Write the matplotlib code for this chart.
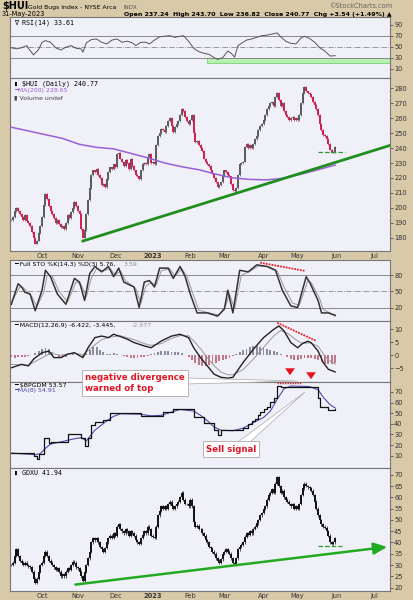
import numpy as np
import pandas as pd
import matplotlib
matplotlib.use('Agg')
import matplotlib.pyplot as plt
from matplotlib.patches import Polygon, Rectangle

# ---- data ----
# daily closes, 7-Sep-2022 .. 31-May-2023 (business days)
hui_close = [192, 194, 198, 200, 198, 196, 194, 192, 195, 191, 190, 188, 184, 180, 176, 178, 183, 188,
             194, 202, 209, 206, 201, 198, 196, 193, 190, 192, 189, 187, 188, 186, 190, 195, 193, 197, 200, 204, 201,
             198, 196, 186, 180, 185, 196, 205, 213, 222, 225, 224, 226, 222, 220, 215, 216, 214, 219, 224, 227, 226, 229,
             227, 236, 237, 233, 231, 228, 232, 230, 226, 233, 228, 225, 222, 221, 219, 225, 229, 230, 229, 234, 236, 230,
             231, 229, 242, 248, 250, 253, 252, 251, 255, 258, 260, 255, 251, 254, 256, 258, 262, 266, 265, 261, 258, 256,
             259, 262, 250, 244, 245, 242, 240, 238, 233, 231, 229, 228, 225, 223, 220, 217, 214, 215, 217, 221,
             225, 224, 222, 221, 216, 212, 211, 213, 222, 229, 230, 231, 241, 243, 240, 242, 240, 243, 246, 248, 252, 255, 256,
             259, 262, 266, 268, 270, 271, 268, 274, 277, 272, 268, 270, 265, 262, 261, 259, 260, 261, 259, 260,
             259, 262, 270, 277, 281, 278, 277, 276, 274, 271, 269, 266, 262, 256, 252, 249, 248, 246, 243, 239, 237, 237.23, 240.77]

gdxu_close = [30, 31, 34, 37, 34, 32, 31, 30, 31, 30, 29.5, 29, 27, 24, 22, 24, 27, 30,
              31, 34, 36, 34, 32, 31, 30, 29, 28, 28.5, 27, 25, 26, 25, 27, 28.5, 28, 30, 31.5, 31, 29,
              28.5, 27, 25, 23, 27, 30, 33, 36, 40, 42, 41, 42, 40, 38, 37, 36, 37.5, 40, 42, 43, 42, 44,
              43, 47, 48, 46, 45, 44, 46, 45, 43, 45, 44, 43, 41, 40, 39.5, 42, 43.5, 45, 44, 47, 46, 43,
              42.5, 42, 47, 52, 54, 56, 55, 56, 55, 57, 58, 56, 55, 56, 57, 58, 60, 62, 59, 57, 57, 56,
              59, 56, 49, 47, 47.5, 46, 46, 44, 43, 41, 40, 38, 37.5, 36, 35, 33, 32, 31, 32.5, 35,
              36, 37, 36, 35, 33, 31, 30.5, 33, 37, 38, 39, 40, 42.5, 44, 43.5, 45, 44, 46, 47, 48.5, 50, 52, 53,
              55, 56, 59, 61, 62, 63.5, 62, 66, 69, 65, 62, 63, 60, 59, 58, 57, 56, 57, 55, 56,
              55, 57, 61, 64, 66, 65, 64.5, 64, 63, 61, 58, 55, 52, 50, 48, 47, 46.5, 45, 43, 40, 39.5, 40, 41.94]

ma200_idx = [0, 10, 20, 30, 40, 50, 60, 70, 80, 90, 100, 110, 120, 130, 140, 150, 160, 170, 180, 190]
ma200_val = [254, 251.5, 249, 246.5, 242.5, 240.5, 239.5, 236.5, 233.5, 230, 227.5, 225.5, 222.5, 220, 219,
             218.7, 219.8, 222.5, 225.5, 228.65]

rsi_idx = [0, 3, 6, 9, 10, 13, 16, 18, 20, 23, 26, 29, 32, 35, 38, 41, 42, 44, 47, 50, 53, 56, 59, 62, 65, 68,
           71, 73, 76, 79, 81, 84, 87, 90, 93, 96, 99, 101, 104, 107, 110, 113, 116, 119, 121, 124, 127, 129,
           131, 133, 135, 138, 141, 144, 147, 150, 153, 156, 158, 161, 164, 167, 170, 172, 175, 178, 181, 184,
           187, 190]
rsi_val = [48, 46, 48, 52, 47, 35, 45, 58, 61, 58, 48, 44, 49, 52, 47, 46, 40, 57, 63, 64, 58, 55, 62, 64, 58, 60,
           57, 52, 58, 58, 55, 62, 68, 69, 70, 67, 69, 70, 60, 47, 41, 38, 36, 30, 27, 30, 42, 38,
           31, 52, 56, 62, 64, 67, 70, 71, 73, 75, 68, 60, 56, 55, 66, 69, 65, 58, 48, 42,
           33, 33.61]

stok_idx = [0, 4, 6, 8, 11, 14, 18, 20, 23, 27, 32, 37, 40, 43, 46, 49, 53, 57, 60, 63, 66, 72, 75, 78, 81, 84,
            87, 92, 95, 99, 102, 105, 109, 115, 121, 125, 127, 130, 134, 139, 144, 150, 155, 159, 164, 168,
            173, 175, 180, 182, 186, 190]
stok_val = [26, 64, 58, 48, 45, 14, 52, 89, 77, 45, 26, 74, 67, 33, 83, 96, 86, 96, 77, 93, 67, 58, 20, 67, 70, 58,
            93, 93, 74, 96, 77, 45, 10, 10, 4, 17, 52, 10, 89, 86, 99, 96, 89, 52, 23, 20,
            77, 67, 33, 10, 10, 5.76]
stod_idx = [0, 5, 7, 10, 12, 15, 19, 21, 24, 28, 33, 38, 41, 44, 47, 50, 54, 58, 61, 64, 67, 73, 76, 79, 82, 85,
            88, 93, 96, 100, 103, 106, 110, 116, 122, 126, 128, 131, 135, 140, 145, 151, 156, 160, 165, 169,
            174, 176, 181, 183, 187, 190]
stod_val = [30, 58, 57, 47, 40, 22, 48, 80, 78, 50, 30, 68, 62, 40, 75, 92, 88, 92, 80, 88, 70, 55, 28, 60, 66, 62,
            88, 92, 78, 92, 78, 50, 15, 10, 6, 25, 45, 18, 80, 87, 97, 96, 88, 58, 28, 24,
            70, 66, 36, 16, 10, 3.59]

macd_idx = [0, 6, 10, 13, 18, 22, 25, 29, 33, 37, 42, 45, 49, 53, 57, 60, 64, 68, 72, 78, 82, 88, 94, 99, 104,
            107, 111, 115, 119, 123, 127, 130, 136, 142, 148, 154, 157, 160, 164, 168, 171, 174, 176, 180,
            183, 186, 190]
macd_val = [-4.8, -3.5, -4.1, -1.5, 1.0, 1.6, -0.9, -0.9, 0.4, 1.0, -0.9, 2.9, 6.8, 7.4, 6.8, 8.1, 7.2, 6.2, 4.9,
            3.6, 2.9, 5.5, 7.4, 8.1, 6.8, 2.9, -0.9, -4.1, -7.3, -8.5, -8.8, -8.5, -2.8, 2.3, 6.8, 10, 11.3, 9.4,
            4.9, 2.9, 4.6, 5.4, 4.8, 1.6, -2.8, -5.4, -6.422]
sig_idx = [0, 10, 18, 23, 29, 37, 42, 49, 53, 58, 64, 72, 78, 82, 88, 94, 99, 104, 107, 111, 115, 119, 123, 127,
           130, 136, 142, 148, 154, 158, 162, 168, 171, 175, 180, 183, 186, 190]
sig_val = [-3.5, -3.8, -1.0, 0.8, 0, 0.8, 0.2, 4, 6, 7, 7.5, 6, 4.5, 3.8, 4.5, 6.5, 7.6, 7.5, 5.5, 2.5, -1, -4,
           -6.5, -7.5, -7.5, -5.5, -1.5, 3, 7.5, 9.5, 8.5, 5.5, 4.5, 4.8, 3.5, 0.5, -1.8, -3.445]
# histogram, every second bar
hist_val = [-0.8, -0.9, -0.7, -0.6, -0.5, -0.3, 0.2, 0.8, 1.6, 2.3, 2.9, 2.4, 1.2,
            0.2, -0.6, -0.9, -0.6, 0.2, 0.5, 0.2, -0.4, -0.6,
            0.8, 2.2, 3.3, 3.1, 2.2, 1.2, 0.6,
            0.5, 0.8, 0.6, 0.2, -0.3, -0.6, -0.9, -1.1, -1.0, -0.8, -0.5, -0.1,
            0.4, 0.9, 1.4, 1.6, 1.7, 1.6, 1.4, 1.3, 1.1, 0.8,
            0.1, -0.8, -1.8, -2.8, -3.6, -4.0, -4.1, -3.8, -3.4, -2.8, -2.3, -1.8, -1.3, -0.9, -0.4,
            0.4, 1.2, 2.0, 2.6, 3.1, 3.4, 3.4, 3.2, 2.9, 2.5, 2.1, 1.6, 1.2, 0.6, 0.1,
            -0.6, -1.3, -1.8, -2.0, -1.6, -1.2, -1.0, -0.9, -1.3, -2.0, -2.7, -3.2, -3.5, -3.3, -3.0]

bpgdm_idx = [0, 13, 15, 16, 19, 22, 23, 33, 41, 43, 45, 47, 49, 54, 58, 76, 89, 95, 107, 113, 119, 121, 123,
             136, 139, 141, 143, 145, 146, 148, 150, 152, 154, 156, 158, 180, 181, 186, 190]
bpgdm_val = [12.5, 10, 7, 12, 27, 22, 23, 30, 26.5, 19, 27, 39, 41.5, 43.5, 50, 47.3, 51, 53.5, 46.7, 40.5, 34,
             29.5, 34, 36, 40, 43, 45, 48, 51, 54, 56, 60.7, 64, 76, 75, 64, 56, 53, 53.57]
bpma_idx = [0, 14, 17, 20, 23, 29, 37, 41, 44, 49, 53, 57, 60, 64, 76, 82, 88, 94, 99, 107, 111, 115, 119, 123,
            130, 136, 142, 148, 152, 156, 160, 164, 175, 180, 183, 187, 190]
bpma_val = [12.5, 11, 12, 17, 21, 23, 26, 27, 24, 34, 39, 44, 47, 49.5, 49, 47.5, 48, 51, 53.5, 52, 48, 43, 37,
            34, 33.5, 36, 41, 46, 52, 63, 73, 75.5, 75, 72, 65, 58, 54.91]

# trend lines / level marks (bar index, value)
hui_trend = ([42, 222.2], [177.7, 241.8])
hui_level = ([180, 196], 237.5)
gdxu_trend = ([36, 222.2], [21.2, 38.2])
gdxu_level = ([180, 194], 38.3)
sto_div = ([146, 172], [103, 88])
macd_div = ([156, 179], [12.5, 5.5])

W, H = 414, 600
BG = '#d8caa8'
PANEL = '#f0f0f8'
UP, DN = '#5a5a5a', '#cf1f4f'

dates = pd.bdate_range('2022-09-07', '2023-07-31')
n = len(hui_close)
idx = np.arange(n)
XMAX = 222.2

mpos, mlab = [], []
for k in range(1, len(dates)):
    if dates[k].month != dates[k - 1].month and k <= XMAX:
        mpos.append(k)
        mlab.append('2023' if dates[k].month == 1 else dates[k].strftime('%b'))

fig = plt.figure(figsize=(W / 100, H / 100), dpi=100, facecolor=BG)


def panel(top, bottom):
    ax = fig.add_axes([10 / W, 1 - bottom / H, 380 / W, (bottom - top) / H])
    ax.set_facecolor(PANEL)
    ax.set_xlim(-0.8, XMAX)
    ax.yaxis.tick_right()
    ax.tick_params(axis='y', labelsize=4.8, length=2, pad=1, colors='#333333', width=0.5)
    ax.tick_params(axis='x', length=0, labelsize=4.8, pad=1.5, colors='#333333')
    ax.set_xticks([])
    for s in ax.spines.values():
        s.set_color('#777777')
        s.set_linewidth(0.8)
    return ax


def month_axis(ax):
    ax.set_xticks(mpos)
    ax.set_xticklabels(mlab)
    for t in ax.get_xticklabels():
        if t.get_text() == '2023':
            t.set_fontweight('bold')


def bars(ax, close, colored=True):
    c = np.array(close, dtype=float)
    prev = np.r_[c[0], c[:-1]]
    lo = np.minimum(prev, c)
    hi = np.maximum(prev, c) + 0.001
    if colored:
        cols = [UP if a >= b else DN for a, b in zip(c, prev)]
    else:
        cols = '#111111'
    ax.vlines(idx, lo - 0.6, hi + 0.6, colors=cols, lw=0.5)
    ax.vlines(idx, lo, hi, colors=cols, lw=1.4)


# RSI
ax = panel(17, 78)
ax.set_ylim(-7, 104)
ax.set_yticks([10, 30, 50, 70, 90])
for lv in (30, 70):
    ax.axhline(lv, color='#888888', lw=0.7)
ax.axhline(50, color='#888888', lw=0.6, ls='-.')
ax.add_patch(Rectangle((115, 21), XMAX - 115, 9, fc='#b8f0b0', ec='#66cc66', lw=0.5, zorder=1))
ax.plot(rsi_idx, rsi_val, color='#555555', lw=0.7, zorder=3)
ax.text(0.01, 0.96, '\u2207 RSI(14) 33.61', transform=ax.transAxes, fontsize=4.8, va='top', family='DejaVu Sans Mono')

# price
ax = panel(78, 251)
ax.set_ylim(171, 287)
ax.set_yticks(range(180, 290, 10))
bars(ax, hui_close)
ax.plot(ma200_idx, ma200_val, color='#9b5fd6', lw=1.1, zorder=3)
ax.plot(hui_trend[0], hui_trend[1], color='#1e8f1e', lw=2.0, zorder=4)
ax.plot(hui_level[0], [hui_level[1]] * 2, color='#2aa02a', lw=0.9, ls='--', zorder=4)
ax.text(0.01, 0.985, '\u25ae $HUI (Daily) 240.77', transform=ax.transAxes, fontsize=4.8, va='top', family='DejaVu Sans Mono')
ax.text(0.01, 0.94, '\u2501MA(200) 228.65', transform=ax.transAxes, fontsize=4.5, va='top', color='#9b5fd6')
ax.text(0.01, 0.90, '\u25ae Volume undef', transform=ax.transAxes, fontsize=4.5, va='top', color='#444444')
month_axis(ax)

# Full STO
ax = panel(260, 321)
ax.set_ylim(-5, 108)
ax.set_yticks([20, 50, 80])
for lv in (20, 80):
    ax.axhline(lv, color='#888888', lw=0.7)
ax.axhline(50, color='#888888', lw=0.6, ls='-.')
ax.plot(stod_idx, stod_val, color='#999999', lw=0.7)
ax.plot(stok_idx, stok_val, color='#333333', lw=1.1)
ax.plot(sto_div[0], sto_div[1], color='#e8202a', lw=1.3, ls=(0, (1, 0.6)))
ax.text(0.01, 0.97, '\u2501 Full STO %K(14,3) %D(3) 5.76,', transform=ax.transAxes, fontsize=4.5, va='top')
ax.text(0.30, 0.97, '3.59', transform=ax.transAxes, fontsize=4.5, va='top', color='#888888')

# MACD
ax = panel(321, 382)
ax.set_ylim(-10.3, 13.2)
ax.set_yticks([-5, 0, 5, 10])
hidx = idx[::2]
hv = np.array(hist_val)
ax.bar(hidx, hv, width=1.1, color=np.where(hv >= 0, '#8c8c9c', '#c07888'), lw=0)
ax.plot(sig_idx, sig_val, color='#999999', lw=0.7)
ax.plot(macd_idx, macd_val, color='#222222', lw=1.0)
ax.plot(macd_div[0], macd_div[1], color='#e8202a', lw=1.3, ls=(0, (1, 0.6)))
ax.text(0.01, 0.97, '\u2501 MACD(12,26,9) -6.422, -3.445,', transform=ax.transAxes, fontsize=4.5, va='top')
ax.text(0.32, 0.97, '-2.977', transform=ax.transAxes, fontsize=4.5, va='top', color='#999999')

# $BPGDM
ax = panel(382, 468)
ax.set_ylim(-1.5, 79.3)
ax.set_yticks(range(10, 80, 10))
ax.plot(bpma_idx, bpma_val, color='#4a4ab0', lw=0.8)
ax.plot(bpgdm_idx, bpgdm_val, color='#111111', lw=0.9, drawstyle='steps-post')
ax.text(0.01, 0.985, '\u2501 $BPGDM 53.57', transform=ax.transAxes, fontsize=4.5, va='top')
ax.text(0.01, 0.93, '\u2501MA(8) 54.91', transform=ax.transAxes, fontsize=4.5, va='top', color='#4a4ab0')

# GDXU
ax = panel(468, 591)
ax.set_ylim(18.5, 73)
ax.set_yticks(range(20, 75, 5))
bars(ax, gdxu_close, colored=False)
ax.annotate('', xy=(gdxu_trend[0][1], gdxu_trend[1][1]), xytext=(gdxu_trend[0][0], gdxu_trend[1][0]),
            arrowprops=dict(arrowstyle='-|>,head_width=0.35,head_length=0.8', color='#22aa22', lw=1.8),
            annotation_clip=False)
ax.plot(gdxu_level[0], [gdxu_level[1]] * 2, color='#2aa02a', lw=0.9, ls='--')
ax.text(0.01, 0.985, '\u25ae GDXU 41.94', transform=ax.transAxes, fontsize=4.8, va='top', family='DejaVu Sans Mono')
month_axis(ax)

# header and callouts in pixel space
ov = fig.add_axes([0, 0, 1, 1])
ov.set_xlim(0, W)
ov.set_ylim(H, 0)
ov.axis('off')
ov.patch.set_visible(False)
ov.text(2, 9, '$HUI', fontsize=7, fontweight='bold', va='baseline')
ov.text(28, 9, 'Gold Bugs Index - NYSE Arca', fontsize=4.4, va='baseline')
ov.text(124, 9, 'INDX', fontsize=4, va='baseline', color='#555555')
ov.text(392, 8, '\u00a9StockCharts.com', fontsize=4.8, ha='right', va='baseline', color='#666666')
ov.text(2, 16, '31-May-2023', fontsize=4.8, va='baseline')
ov.text(392, 16, 'Open 237.24  High 243.70  Low 236.82  Close 240.77  Chg +3.54 (+1.49%) \u25b2',
        fontsize=4.5, ha='right', va='baseline', fontweight='bold')

ov.add_patch(Polygon([(186, 378), (186, 384), (297, 381)], closed=True, fc='white', ec='#aaaaaa', lw=0.5))
ov.text(85, 383, 'negative divergence\nwarned of top', fontsize=6.2, fontweight='bold', color='#e01525',
        va='center', ha='left', linespacing=1.2,
        bbox=dict(boxstyle='square,pad=0.35', fc='white', ec='#aaaaaa', lw=0.6))
ov.add_patch(Polygon([(238, 442), (250, 442), (305, 392)], closed=True, fc='white', ec='#aaaaaa', lw=0.5))
ov.text(206, 449, 'Sell signal', fontsize=6.2, fontweight='bold', color='#e01525', va='center', ha='left',
        bbox=dict(boxstyle='square,pad=0.35', fc='white', ec='#aaaaaa', lw=0.6))
for ax_x, y0 in ((290, 367), (311, 371)):
    ov.annotate('', xy=(ax_x, y0 + 11), xytext=(ax_x, y0),
                arrowprops=dict(arrowstyle='simple,head_width=0.7,head_length=0.5,tail_width=0.35',
                                color='#e8101a', lw=0))
ov.plot([277, 302], [383, 383], color='#e8202a', lw=1.0, ls=(0, (1, 0.8)))

fig.savefig('out.png', dpi=100, facecolor=BG)
